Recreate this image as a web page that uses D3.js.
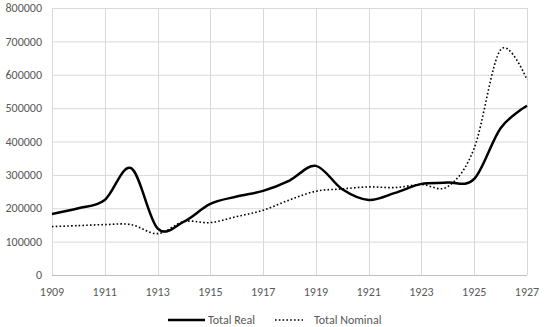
<!DOCTYPE html>
<html>
<head>
<meta charset="utf-8">
<script src="https://cdn.jsdelivr.net/npm/d3@7"></script>
<style>
  body { margin: 0; background: #fff; }
  text { font-family: Calibri, Carlito, "Liberation Sans", sans-serif; font-size: 12px; fill: #595959; }
</style>
</head>
<body>
<svg id="chart" width="548" height="327"></svg>
<script>
// values, one per year
const years = [1909, 1910, 1911, 1912, 1913, 1914, 1915, 1916, 1917, 1918,
               1919, 1920, 1921, 1922, 1923, 1924, 1925, 1926, 1927];
const totalReal = [183000, 200000, 225000, 320000, 140000, 160000, 213000, 235000, 252000, 283000,
                   327000, 257000, 225000, 246000, 273000, 277000, 288000, 440000, 507000];
const totalNominal = [145000, 148000, 151000, 151000, 124000, 160000, 157000, 175000, 194000, 225000,
                      251000, 258000, 264000, 262000, 271000, 265000, 380000, 675000, 585000];
const yTicks = [0, 100000, 200000, 300000, 400000, 500000, 600000, 700000, 800000];
const xTicks = [1909, 1911, 1913, 1915, 1917, 1919, 1921, 1923, 1925, 1927];

const svg = d3.select("#chart");
const margin = {left: 52, right: 21, top: 8, bottom: 52};
const w = 548 - margin.left - margin.right,
      h = 327 - margin.top - margin.bottom;

const x = d3.scaleLinear().domain([1909, 1927]).range([0, w]);
const y = d3.scaleLinear().domain([0, 800000]).range([h, 0]);

const g = svg.append("g").attr("transform", `translate(${margin.left},${margin.top})`);

// grid
g.append("g").selectAll("line").data(yTicks.slice(1)).join("line")
    .attr("x1", 0).attr("x2", w)
    .attr("y1", d => y(d) + 0.5).attr("y2", d => y(d) + 0.5)
    .attr("stroke", "#d9d9d9");
g.append("g").selectAll("line").data(xTicks).join("line")
    .attr("x1", d => Math.round(x(d)) + 0.5).attr("x2", d => Math.round(x(d)) + 0.5)
    .attr("y1", 0).attr("y2", h)
    .attr("stroke", "#d9d9d9");
// bottom axis line
g.append("line")
    .attr("x1", 0).attr("x2", w)
    .attr("y1", h + 0.5).attr("y2", h + 0.5)
    .attr("stroke", "#bfbfbf");

// y labels
g.append("g").selectAll("text").data(yTicks).join("text")
    .attr("x", -10).attr("y", d => y(d))
    .attr("dy", "0.35em")
    .attr("text-anchor", "end")
    .text(d => d);

// x labels
g.append("g").selectAll("text").data(xTicks).join("text")
    .attr("x", d => x(d)).attr("y", h + 21)
    .attr("text-anchor", "middle")
    .text(d => d);

const line = d3.line()
    .x((d, i) => x(years[i]))
    .y(d => y(d))
    .curve(d3.curveCardinal.tension(0));

g.append("path").datum(totalNominal)
    .attr("d", line)
    .attr("fill", "none")
    .attr("stroke", "#000")
    .attr("stroke-width", 1.6)
    .attr("stroke-dasharray", "1.6 2.2");

g.append("path").datum(totalReal)
    .attr("d", line)
    .attr("fill", "none")
    .attr("stroke", "#000")
    .attr("stroke-width", 2.5);

// legend
const legend = svg.append("g").attr("transform", "translate(0,320)");
legend.append("line")
    .attr("x1", 168).attr("x2", 205).attr("y1", 0).attr("y2", 0)
    .attr("stroke", "#000").attr("stroke-width", 2.5);
legend.append("text").attr("x", 208).attr("y", 0).attr("dy", "0.35em").text("Total Real");
legend.append("line")
    .attr("x1", 275).attr("x2", 303).attr("y1", 0).attr("y2", 0)
    .attr("stroke", "#000").attr("stroke-width", 1.6)
    .attr("stroke-dasharray", "1.6 2.2");
legend.append("text").attr("x", 314).attr("y", 0).attr("dy", "0.35em").text("Total Nominal");
</script>
</body>
</html>
